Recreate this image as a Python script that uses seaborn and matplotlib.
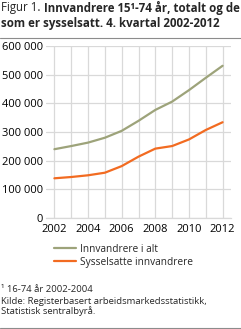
import numpy as np
import pandas as pd
import matplotlib
matplotlib.use("Agg")
import matplotlib.pyplot as plt
import seaborn as sns
from matplotlib.lines import Line2D

years = [2002, 2003, 2004, 2005, 2006, 2007, 2008, 2009, 2010, 2011, 2012]
innvandrere_i_alt = [240000, 251000, 263000, 280000, 304000, 339000, 377000, 406000, 446000, 489000, 531000]
sysselsatte = [138500, 143000, 149000, 158000, 181000, 214000, 242000, 251000, 274000, 307000, 334000]
series_names = ["Innvandrere i alt", "Sysselsatte innvandrere"]
colors = ["#9da37a", "#f26b21"]
yticks = [0, 100000, 200000, 300000, 400000, 500000, 600000]
ytick_labels = ["0", "100 000", "200 000", "300 000", "400 000", "500 000", "600 000"]
xticks = [2002, 2004, 2006, 2008, 2010, 2012]

df = pd.DataFrame({
    "year": years * 2,
    "value": innvandrere_i_alt + sysselsatte,
    "series": [series_names[0]] * len(years) + [series_names[1]] * len(years),
})

sns.set_theme(style="white")
FONT = ["Open Sans", "DejaVu Sans"]
plt.rcParams["font.family"] = FONT

W, H = 241, 329
fig = plt.figure(figsize=(W / 100, H / 100), dpi=100)
ax = fig.add_axes([46 / W, 1 - 218 / H, 185 / W, 172 / H])

sns.lineplot(data=df, x="year", y="value", hue="series", palette=colors,
             hue_order=series_names, ax=ax, linewidth=1.6, legend=False)

ax.set_xlim(2001.5, 2012.5)
ax.set_ylim(0, 600000)
ax.set_xticks(years)
ax.set_xticklabels([str(y) if y in xticks else "" for y in years])
ax.set_yticks(yticks)
ax.set_yticklabels(ytick_labels)
ax.grid(True, color="#d9d9d9", linewidth=0.9)
ax.set_axisbelow(True)
for s in ["top", "right", "left"]:
    ax.spines[s].set_visible(False)
ax.spines["bottom"].set_color("#d9d9d9")
ax.spines["bottom"].set_linewidth(0.9)
ax.tick_params(axis="x", which="major", length=3, color="#d9d9d9", width=0.9, pad=1,
               labelsize=8, labelcolor="black")
ax.tick_params(axis="y", length=0, pad=2, labelsize=8, labelcolor="black")
ax.set_xlabel("")
ax.set_ylabel("")

# legend
handles = [Line2D([], [], color=c, linewidth=1.6) for c in colors]
fig.legend(handles, series_names, loc="upper left", bbox_to_anchor=(54 / W, 1 - 244 / H),
           frameon=False, fontsize=7.3, handlelength=2.2, handletextpad=0.4,
           labelspacing=0.2, borderaxespad=0, borderpad=0)

# title
t1 = fig.text(1 / W, 1 - 8 / H, "Figur 1. ", fontsize=8.3, va="center", ha="left")
fig.canvas.draw()
r = fig.canvas.get_renderer()
bb = t1.get_window_extent(r)
fig.text(bb.x1 / W, 1 - 8 / H, "Innvandrere 15¹-74 år, totalt og de", fontsize=8.3,
         fontweight="bold", va="center", ha="left")
fig.text(1 / W, 1 - 23 / H, "som er sysselsatt. 4. kvartal 2002-2012", fontsize=8.3,
         fontweight="bold", va="center", ha="left")

fig.add_artist(Line2D([0, 1], [1 - 37.5 / H, 1 - 37.5 / H], color="#8c8c8c", linewidth=0.8,
                      transform=fig.transFigure))
fig.add_artist(Line2D([0, 1], [1 - 327.5 / H, 1 - 327.5 / H], color="#8c8c8c", linewidth=0.8,
                      transform=fig.transFigure))

fig.text(1 / W, 1 - 290 / H, "¹ 16-74 år 2002-2004", fontsize=6.8, va="center", ha="left")
fig.text(1 / W, 1 - 297 / H,
         "Kilde: Registerbasert arbeidsmarkedsstatistikk,\nStatistisk sentralbyrå.",
         fontsize=6.8, va="top", ha="left", linespacing=1.0)

fig.savefig("out.png", dpi=100)
